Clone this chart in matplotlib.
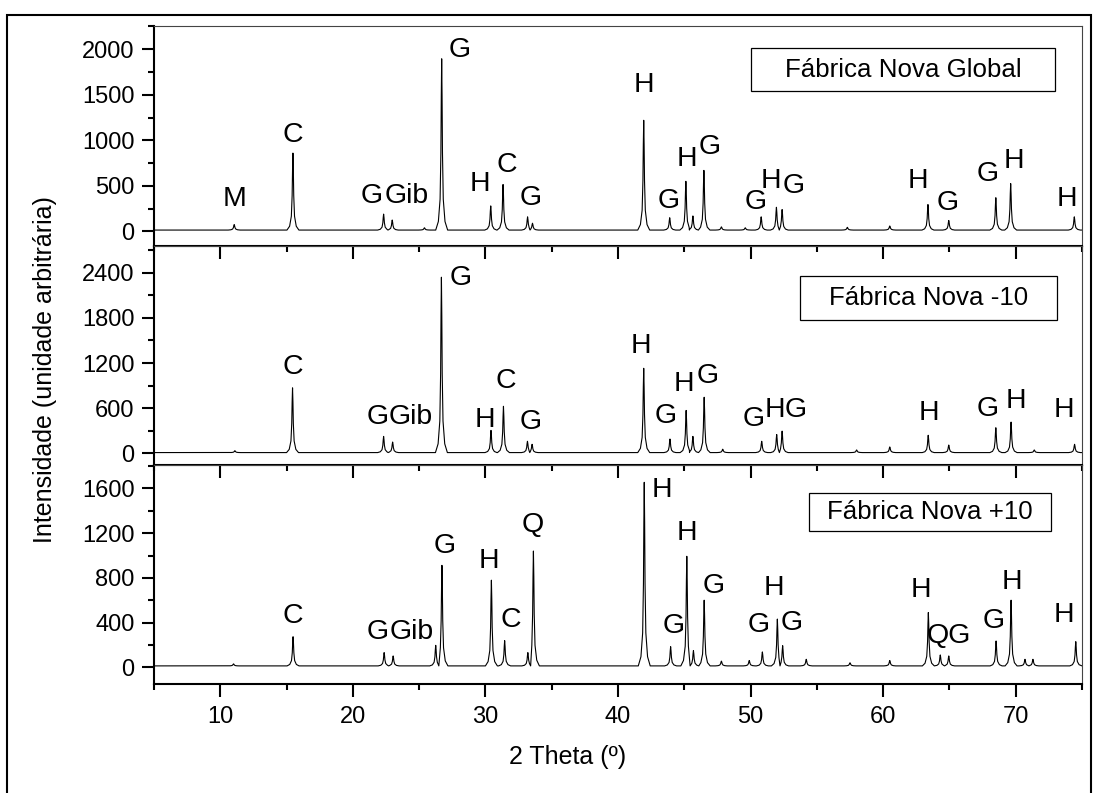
import matplotlib.pyplot as plt
from matplotlib.patches import Rectangle
from matplotlib.ticker import MultipleLocator

plt.rcParams['font.family'] = ['Liberation Sans', 'DejaVu Sans']

# Peak positions (2 theta, degrees) and apex intensities for each sample
global_pos = [11.05, 15.48, 22.32, 22.97, 25.4, 26.70, 30.40, 31.33, 33.18, 33.55,
              41.94, 43.90, 45.12, 45.65, 46.48, 47.80, 49.60, 50.80, 51.95, 52.38,
              57.30, 60.50, 63.38, 64.95, 68.50, 69.62, 74.42]
global_int = [75, 860, 190, 125, 40, 1895, 280, 515, 160, 90,
              1220, 150, 550, 170, 670, 50, 40, 160, 265, 240,
              45, 60, 295, 120, 370, 525, 160]
global_base = 15

minus_pos = [11.10, 15.45, 22.32, 23.00, 26.68, 30.42, 31.36, 33.17, 33.52,
             41.94, 43.92, 45.14, 45.65, 46.50, 47.90, 50.84, 51.97, 52.38,
             58.00, 60.50, 63.40, 64.95, 68.50, 69.65, 71.40, 74.44]
minus_int = [35, 870, 225, 150, 2340, 305, 625, 160, 120,
             1130, 190, 570, 225, 745, 55, 160, 250, 295,
             45, 85, 240, 110, 340, 415, 45, 120]
minus_base = 10

plus_pos = [11.00, 15.49, 22.36, 23.04, 26.25, 26.72, 30.45, 31.45, 33.20, 33.62,
            41.98, 43.97, 45.19, 45.69, 46.50, 47.80, 49.90, 50.89, 52.02, 52.42,
            54.20, 57.50, 60.50, 63.41, 64.31, 64.95, 68.52, 69.65, 70.70, 71.30, 74.53]
plus_int = [30, 273, 131, 101, 196, 912, 779, 238, 131, 1040,
            1655, 184, 993, 149, 600, 55, 60, 137, 431, 193,
            71, 40, 60, 490, 110, 101, 235, 600, 71, 71, 229]
plus_base = 12

# Phase labels (text, 2 theta, intensity at the middle of the letters)
global_lbl = ['M', 'C', 'G', 'Gib', 'G', 'H', 'C', 'G', 'H', 'G', 'H', 'G',
              'G', 'H', 'G', 'H', 'G', 'G', 'H', 'H']
global_lbl_x = [11.1, 15.5, 21.45, 24.1, 28.05, 29.6, 31.63, 33.42, 41.98, 43.8, 45.2, 46.88,
                50.35, 51.55, 53.24, 62.6, 64.85, 67.9, 69.9, 73.85]
global_lbl_y = [360, 1060, 390, 390, 1990, 520, 730, 370, 1612, 338, 796, 925,
                320, 550, 495, 550, 310, 628, 772, 360]

minus_lbl = ['C', 'G', 'Gib', 'G', 'H', 'C', 'G', 'H', 'G', 'H', 'G',
             'G', 'H', 'G', 'H', 'G', 'H', 'H']
minus_lbl_x = [15.5, 21.85, 24.4, 28.15, 30.0, 31.57, 33.42, 41.72, 43.57, 44.96, 46.78,
               50.2, 51.82, 53.42, 63.45, 67.85, 70.0, 73.65]
minus_lbl_y = [1150, 486, 486, 2330, 440, 960, 420, 1420, 495, 925, 1025,
               450, 570, 570, 540, 585, 695, 570]

plus_lbl = ['C', 'G', 'Gib', 'G', 'H', 'C', 'Q', 'H', 'G', 'H', 'G',
            'G', 'H', 'G', 'H', 'QG', 'G', 'H', 'H']
plus_lbl_x = [15.5, 21.85, 24.45, 26.95, 30.3, 31.95, 33.57, 43.28, 44.22, 45.22, 47.2,
              50.62, 51.74, 53.08, 62.85, 64.98, 68.35, 69.7, 73.6]
plus_lbl_y = [455, 315, 315, 1088, 955, 425, 1270, 1582, 373, 1205, 730,
              375, 710, 392, 688, 276, 415, 762, 470]

titles = ['Fábrica Nova Global', 'Fábrica Nova -10', 'Fábrica Nova +10']

# line shape of one reflection: offsets from the peak centre (degrees)
# and the fraction of the peak height reached there
shape_dx = [-0.45, -0.25, -0.12, -0.06, -0.03, 0.0, 0.03, 0.06, 0.12, 0.25, 0.45]
shape_fr = [0.0, 0.05, 0.18, 0.45, 0.78, 1.0, 0.78, 0.45, 0.18, 0.05, 0.0]


def pattern(pos, inten, base):
    xs = [5.0]
    ys = [base]
    n = len(pos)
    for i in range(n):
        lo = (pos[i-1] + pos[i]) / 2 if i > 0 else 5.0
        hi = (pos[i] + pos[i+1]) / 2 if i < n - 1 else 75.0
        px = []
        py = []
        for dx, fr in zip(shape_dx, shape_fr):
            x = pos[i] + dx
            if lo < x < hi:
                px.append(x)
                py.append(base + fr * (inten[i] - base))
        # close the peak back onto the background where a neighbour cuts it
        if px[0] > pos[i] - 0.45:
            px.insert(0, lo)
            py.insert(0, base)
        if px[-1] < pos[i] + 0.45:
            px.append(hi)
            py.append(base)
        xs += px
        ys += py
    xs.append(75.0)
    ys.append(base)
    return xs, ys


fig = plt.figure(figsize=(10.94, 7.93), dpi=100)

# outer frame
fig.patches.append(Rectangle((7 / 1094, -0.02), 1084 / 1094, 1 - 15 / 793 + 0.02,
                             transform=fig.transFigure, fill=False,
                             edgecolor='black', linewidth=1.5))

left = 154 / 1094
width = 928 / 1094
rows = [(1 - 246 / 793, 220 / 793), (1 - 465 / 793, 219 / 793), (1 - 684 / 793, 219 / 793)]

data = [(global_pos, global_int, global_base, global_lbl, global_lbl_x, global_lbl_y),
        (minus_pos, minus_int, minus_base, minus_lbl, minus_lbl_x, minus_lbl_y),
        (plus_pos, plus_int, plus_base, plus_lbl, plus_lbl_x, plus_lbl_y)]
ylims = [(-160, 2255), (-155, 2755), (-150, 1810)]
ysteps = [500, 600, 400]
boxes = [(0.6433, 0.7045, 0.3276, 0.1955), (0.696, 0.662, 0.277, 0.2009),
         (0.7058, 0.6986, 0.2608, 0.1735)]

for k in range(3):
    pos, inten, base, lbl, lx, ly = data[k]
    ax = fig.add_axes([left, rows[k][0], width, rows[k][1]])
    ax.set_facecolor('none')

    xs, ys = pattern(pos, inten, base)
    ax.plot(xs, ys, color='black', linewidth=0.8)

    for t, x, y in zip(lbl, lx, ly):
        ax.text(x, y, t, ha='center', va='center', fontsize=20.5)

    bx, by, bw, bh = boxes[k]
    ax.add_patch(Rectangle((bx, by), bw, bh, transform=ax.transAxes,
                           fill=False, edgecolor='black', linewidth=0.9))
    ax.text(bx + bw / 2, by + bh / 2, titles[k], transform=ax.transAxes,
            ha='center', va='center', fontsize=18.6)

    ax.set_xlim(5, 75)
    ax.set_ylim(*ylims[k])
    ax.xaxis.set_major_locator(MultipleLocator(10))
    ax.xaxis.set_minor_locator(MultipleLocator(5))
    ax.yaxis.set_major_locator(MultipleLocator(ysteps[k]))
    ax.yaxis.set_minor_locator(MultipleLocator(ysteps[k] / 2))

    ax.tick_params(which='both', direction='out', width=1.5, top=False, right=False)
    ax.tick_params(which='major', length=9, labelsize=17)
    ax.tick_params(which='minor', length=4.5)
    ax.tick_params(axis='y', pad=5)
    ax.tick_params(axis='x', pad=7)
    if k < 2:
        ax.tick_params(labelbottom=False)

    for side in ['left', 'bottom']:
        ax.spines[side].set_linewidth(1.5)
    for side in ['top', 'right']:
        ax.spines[side].set_linewidth(0.8)
        ax.spines[side].set_color('#444444')

fig.text(45 / 1094, 1 - 370 / 793, 'Intensidade (unidade arbitrária)',
         rotation=90, ha='center', va='center', fontsize=18)
fig.text(568 / 1094, 1 - 757 / 793, '2 Theta (º)', ha='center', va='center', fontsize=18)

fig.savefig('out.png', dpi=100)
